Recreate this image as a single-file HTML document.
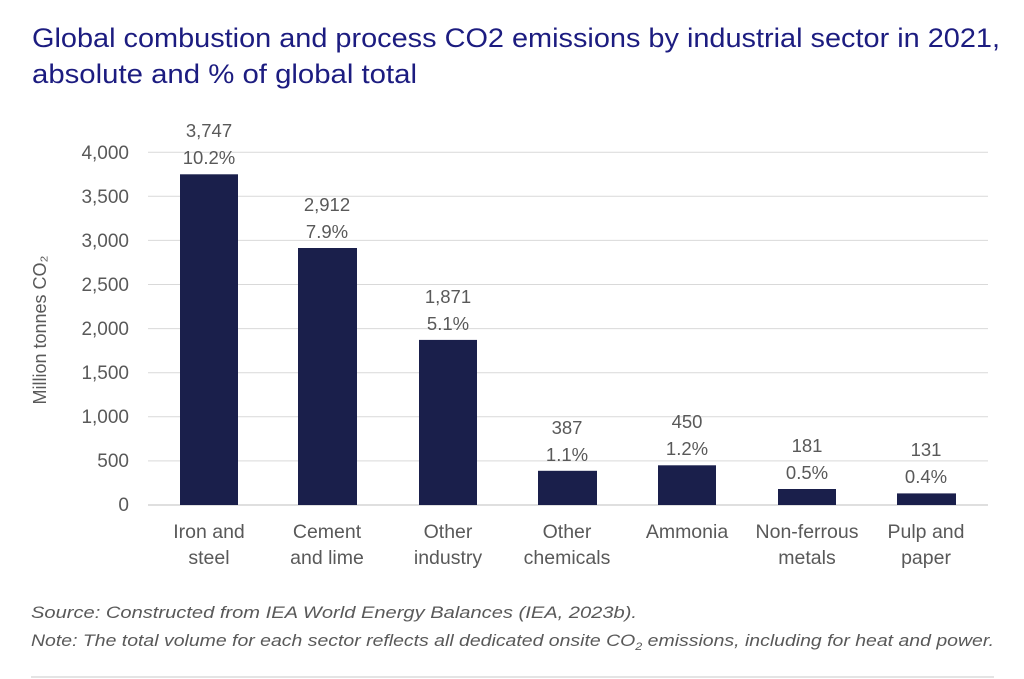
<!DOCTYPE html>
<html><head><meta charset="utf-8"><style>
html,body{margin:0;padding:0;background:#fff}
svg{display:block}
text{font-family:"Liberation Sans",sans-serif}
</style></head><body>
<svg width="1024" height="679" viewBox="0 0 1024 679" xmlns="http://www.w3.org/2000/svg">
<text x="32" y="47" font-size="27" fill="#1c1c80" textLength="968" lengthAdjust="spacingAndGlyphs">Global combustion and process CO2 emissions by industrial sector in 2021,</text>
<text x="32" y="83" font-size="27" fill="#1c1c80" textLength="385" lengthAdjust="spacingAndGlyphs">absolute and % of global total</text>
<g stroke="#d9d9d9" stroke-width="1">
<line x1="148" x2="988" y1="152.2" y2="152.2"/>
<line x1="148" x2="988" y1="196.3" y2="196.3"/>
<line x1="148" x2="988" y1="240.4" y2="240.4"/>
<line x1="148" x2="988" y1="284.5" y2="284.5"/>
<line x1="148" x2="988" y1="328.6" y2="328.6"/>
<line x1="148" x2="988" y1="372.7" y2="372.7"/>
<line x1="148" x2="988" y1="416.8" y2="416.8"/>
<line x1="148" x2="988" y1="460.9" y2="460.9"/>
</g>
<line x1="148" x2="988" y1="505" y2="505" stroke="#bfbfbf"/>
<g font-size="19" fill="#595959" text-anchor="end">
<text x="129" y="159">4,000</text>
<text x="129" y="203">3,500</text>
<text x="129" y="247">3,000</text>
<text x="129" y="291">2,500</text>
<text x="129" y="335">2,000</text>
<text x="129" y="379">1,500</text>
<text x="129" y="423">1,000</text>
<text x="129" y="467">500</text>
<text x="129" y="511">0</text>
</g>
<text transform="translate(46,330) rotate(-90)" font-size="18" fill="#595959" text-anchor="middle">Million tonnes CO₂</text>
<g fill="#1a1f4b">
<rect x="180" y="174.3" width="58" height="330.7"/>
<rect x="298" y="248" width="59" height="257"/>
<rect x="419" y="339.9" width="58" height="165.1"/>
<rect x="538" y="470.8" width="59" height="34.2"/>
<rect x="658" y="465.3" width="58" height="39.7"/>
<rect x="778" y="489" width="58" height="16"/>
<rect x="897" y="493.4" width="59" height="11.6"/>
</g>
<g font-size="18.5" fill="#595959" text-anchor="middle">
<text x="209" y="137">3,747</text><text x="209" y="164">10.2%</text>
<text x="327" y="211">2,912</text><text x="327" y="238">7.9%</text>
<text x="448" y="303">1,871</text><text x="448" y="330">5.1%</text>
<text x="567" y="434">387</text><text x="567" y="461">1.1%</text>
<text x="687" y="428">450</text><text x="687" y="455">1.2%</text>
<text x="807" y="452">181</text><text x="807" y="479">0.5%</text>
<text x="926" y="456">131</text><text x="926" y="483">0.4%</text>
</g>
<g font-size="19.5" fill="#595959" text-anchor="middle">
<text x="209" y="538">Iron and</text><text x="209" y="564">steel</text>
<text x="327" y="538">Cement</text><text x="327" y="564">and lime</text>
<text x="448" y="538">Other</text><text x="448" y="564">industry</text>
<text x="567" y="538">Other</text><text x="567" y="564">chemicals</text>
<text x="687" y="538">Ammonia</text>
<text x="807" y="538">Non-ferrous</text><text x="807" y="564">metals</text>
<text x="926" y="538">Pulp and</text><text x="926" y="564">paper</text>
</g>
<g font-size="17" fill="#595959" font-style="italic">
<text x="31" y="618" textLength="606" lengthAdjust="spacingAndGlyphs">Source: Constructed from IEA World Energy Balances (IEA, 2023b).</text>
<text x="31" y="646" textLength="963" lengthAdjust="spacingAndGlyphs">Note: The total volume for each sector reflects all dedicated onsite CO<tspan font-size="11" dy="4">2</tspan><tspan dy="-4"> emissions, including for heat and power.</tspan></text>
</g>
<line x1="31" x2="994" y1="677" y2="677" stroke="#dcdcdc" stroke-width="1.5"/>
</svg>
</body></html>
